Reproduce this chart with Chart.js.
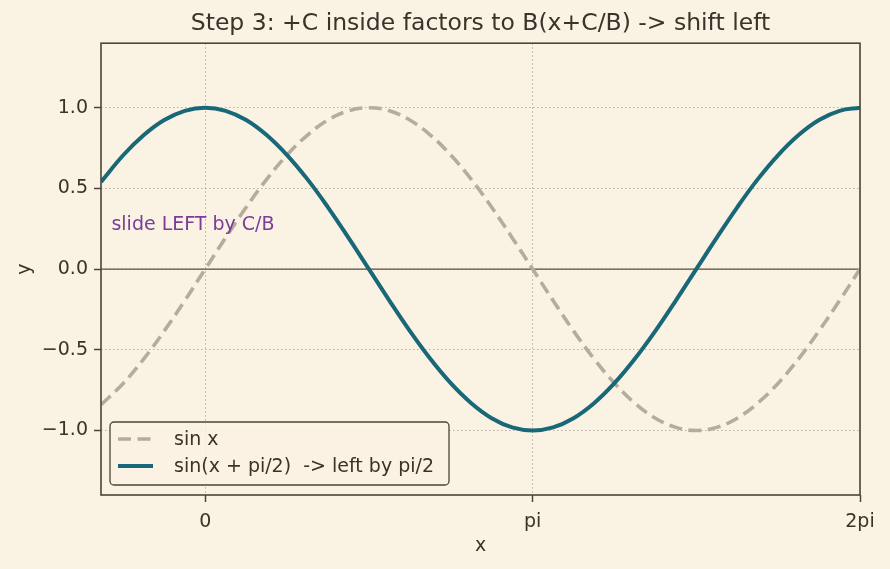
<!DOCTYPE html>
<html lang="en">
<head>
  <meta charset="UTF-8" />
  <title>Step 3 shift left</title>
  <script src="https://cdn.jsdelivr.net/npm/chart.js"></script>
  <style>
    html, body {
      margin: 0;
      padding: 0;
      background: #faf2e3;
    }
    #wrap {
      width: 890px;
      height: 569px;
    }
  </style>
</head>
<body>
  <div id="wrap"><canvas id="grafico" width="890" height="569"></canvas></div>

  <script>
    // x sample positions (radians) and curve values
    const xs = [-1.0, -0.785, -0.589, -0.393, -0.196, 0.0, 0.196, 0.393, 0.589, 0.785, 0.982, 1.178, 1.374,
      1.571, 1.767, 1.963, 2.160, 2.356, 2.553, 2.749, 2.945, 3.142, 3.338, 3.534, 3.731, 3.927, 4.123,
      4.320, 4.516, 4.712, 4.909, 5.105, 5.301, 5.498, 5.694, 5.890, 6.087, 6.283];
    const sinX = [-0.841, -0.707, -0.556, -0.383, -0.195, 0.0, 0.195, 0.383, 0.556, 0.707, 0.831, 0.924, 0.981,
      1.0, 0.981, 0.924, 0.831, 0.707, 0.556, 0.383, 0.195, 0.0, -0.195, -0.383, -0.556, -0.707, -0.831,
      -0.924, -0.981, -1.0, -0.981, -0.924, -0.831, -0.707, -0.556, -0.383, -0.195, 0.0];
    const sinShift = [0.540, 0.707, 0.831, 0.924, 0.981, 1.0, 0.981, 0.924, 0.831, 0.707, 0.556, 0.383, 0.195,
      0.0, -0.195, -0.383, -0.556, -0.707, -0.831, -0.924, -0.981, -1.0, -0.981, -0.924, -0.831, -0.707, -0.556,
      -0.383, -0.195, 0.0, 0.195, 0.383, 0.556, 0.707, 0.831, 0.924, 0.981, 1.0];
    const zeroLineX = [-1.0, 6.283];
    const zeroLineY = [0, 0];

    const xTicks = [0, Math.PI, 2 * Math.PI];
    const xTickLabels = ["0", "pi", "2pi"];
    const yTicks = [-1.0, -0.5, 0.0, 0.5, 1.0];
    const yTickLabels = ["\u22121.0", "\u22120.5", "0.0", "0.5", "1.0"];

    const serieNames = ["sin x", "sin(x + pi/2)  -> left by pi/2"];
    const chartTitle = "Step 3: +C inside factors to B(x+C/B) -> shift left";
    const noteText = "slide LEFT by C/B";
    const notePos = [-0.9, 0.27];

    const FONTE = "'DejaVu Sans', sans-serif";
    const TEXTO = "#3b3229";
    const BORDA = "#4f4436";
    const GRADE = "rgba(130, 120, 105, 0.55)";

    const pontos = (xv, yv) => xv.map((x, i) => ({ x: x, y: yv[i] }));

    // moldura completa + texto anotado + legenda dentro do grafico
    const extras = {
      id: "extras",
      afterDatasetsDraw(chart) {
        const ctx = chart.ctx;
        const a = chart.chartArea;
        const sx = chart.scales.x, sy = chart.scales.y;

        // texto roxo
        ctx.save();
        ctx.font = "19px " + FONTE;
        ctx.fillStyle = "#7b3c9a";
        ctx.textAlign = "left";
        ctx.textBaseline = "middle";
        ctx.fillText(noteText, sx.getPixelForValue(notePos[0]), sy.getPixelForValue(notePos[1]));
        ctx.restore();

        // moldura
        ctx.save();
        ctx.strokeStyle = BORDA;
        ctx.lineWidth = 1.6;
        ctx.strokeRect(a.left, a.top, a.right - a.left, a.bottom - a.top);
        ctx.restore();

        // legenda
        const lx = a.left + 9, lw = 339, lh = 63;
        const ly = a.bottom - 10 - lh;
        ctx.save();
        ctx.beginPath();
        ctx.roundRect(lx, ly, lw, lh, 4);
        ctx.fillStyle = "rgba(250, 242, 227, 0.85)";
        ctx.fill();
        ctx.strokeStyle = BORDA;
        ctx.lineWidth = 1.3;
        ctx.stroke();
        const ds = chart.data.datasets.filter(d => d.label);
        ds.forEach((d, i) => {
          const cy = ly + 17 + i * 27;
          ctx.beginPath();
          ctx.setLineDash(d.borderDash || []);
          ctx.strokeStyle = d.borderColor;
          ctx.lineWidth = d.borderWidth;
          ctx.moveTo(lx + 8, cy);
          ctx.lineTo(lx + 43, cy);
          ctx.stroke();
          ctx.setLineDash([]);
          ctx.fillStyle = TEXTO;
          ctx.font = "19px " + FONTE;
          ctx.textBaseline = "middle";
          ctx.fillText(d.label, lx + 64, cy + 1);
        });
        ctx.restore();
      }
    };

    new Chart(document.getElementById("grafico"), {
      type: "line",
      data: {
        datasets: [
          {
            label: "",
            data: pontos(zeroLineX, zeroLineY),
            borderColor: "#5a4e40",
            borderWidth: 1.4,
            pointRadius: 0,
            order: 3
          },
          {
            label: serieNames[0],
            data: pontos(xs, sinX),
            borderColor: "#b7ac9b",
            borderWidth: 3.6,
            borderDash: [13, 6.5],
            pointRadius: 0,
            tension: 0.4,
            order: 2
          },
          {
            label: serieNames[1],
            data: pontos(xs, sinShift),
            borderColor: "#196878",
            borderWidth: 4,
            pointRadius: 0,
            tension: 0.4,
            order: 1
          }
        ]
      },
      options: {
        responsive: false,
        animation: false,
        layout: { padding: { left: 14, right: 30, top: 0, bottom: 12 } },
        plugins: {
          legend: { display: false },
          tooltip: { enabled: false },
          title: {
            display: true,
            fullSize: false,
            text: chartTitle,
            color: TEXTO,
            font: { family: FONTE, size: 23.5, weight: "normal" },
            padding: { top: 10, bottom: 5 }
          }
        },
        scales: {
          x: {
            type: "linear",
            min: -1.0,
            max: 2 * Math.PI,
            afterBuildTicks: s => { s.ticks = xTicks.map(v => ({ value: v })); },
            afterFit: s => { s.height = 62; },
            ticks: {
              color: TEXTO,
              font: { family: FONTE, size: 19 },
              padding: 9,
              maxRotation: 0,
              callback: (v, i) => xTickLabels[i]
            },
            grid: {
              color: GRADE,
              lineWidth: 1,
              tickColor: BORDA,
              tickLength: 7,
              tickWidth: 1.5,
              tickBorderDash: []
            },
            border: { display: false, dash: [1.5, 2.5] },
            title: {
              display: true,
              text: "x",
              color: TEXTO,
              font: { family: FONTE, size: 19 },
              padding: { top: 2, bottom: 0 }
            }
          },
          y: {
            type: "linear",
            min: -1.4,
            max: 1.4,
            afterBuildTicks: s => { s.ticks = yTicks.map(v => ({ value: v })); },
            afterFit: s => { s.width = 87; },
            ticks: {
              color: TEXTO,
              font: { family: FONTE, size: 19 },
              padding: 6,
              callback: (v, i) => yTickLabels[i]
            },
            grid: {
              color: GRADE,
              lineWidth: 1,
              tickColor: BORDA,
              tickLength: 7,
              tickWidth: 1.5,
              tickBorderDash: []
            },
            border: { display: false, dash: [1.5, 2.5] },
            title: {
              display: true,
              text: "y",
              color: TEXTO,
              font: { family: FONTE, size: 19 },
              padding: { top: 0, bottom: 0 }
            }
          }
        }
      },
      plugins: [extras]
    });
  </script>
</body>
</html>
